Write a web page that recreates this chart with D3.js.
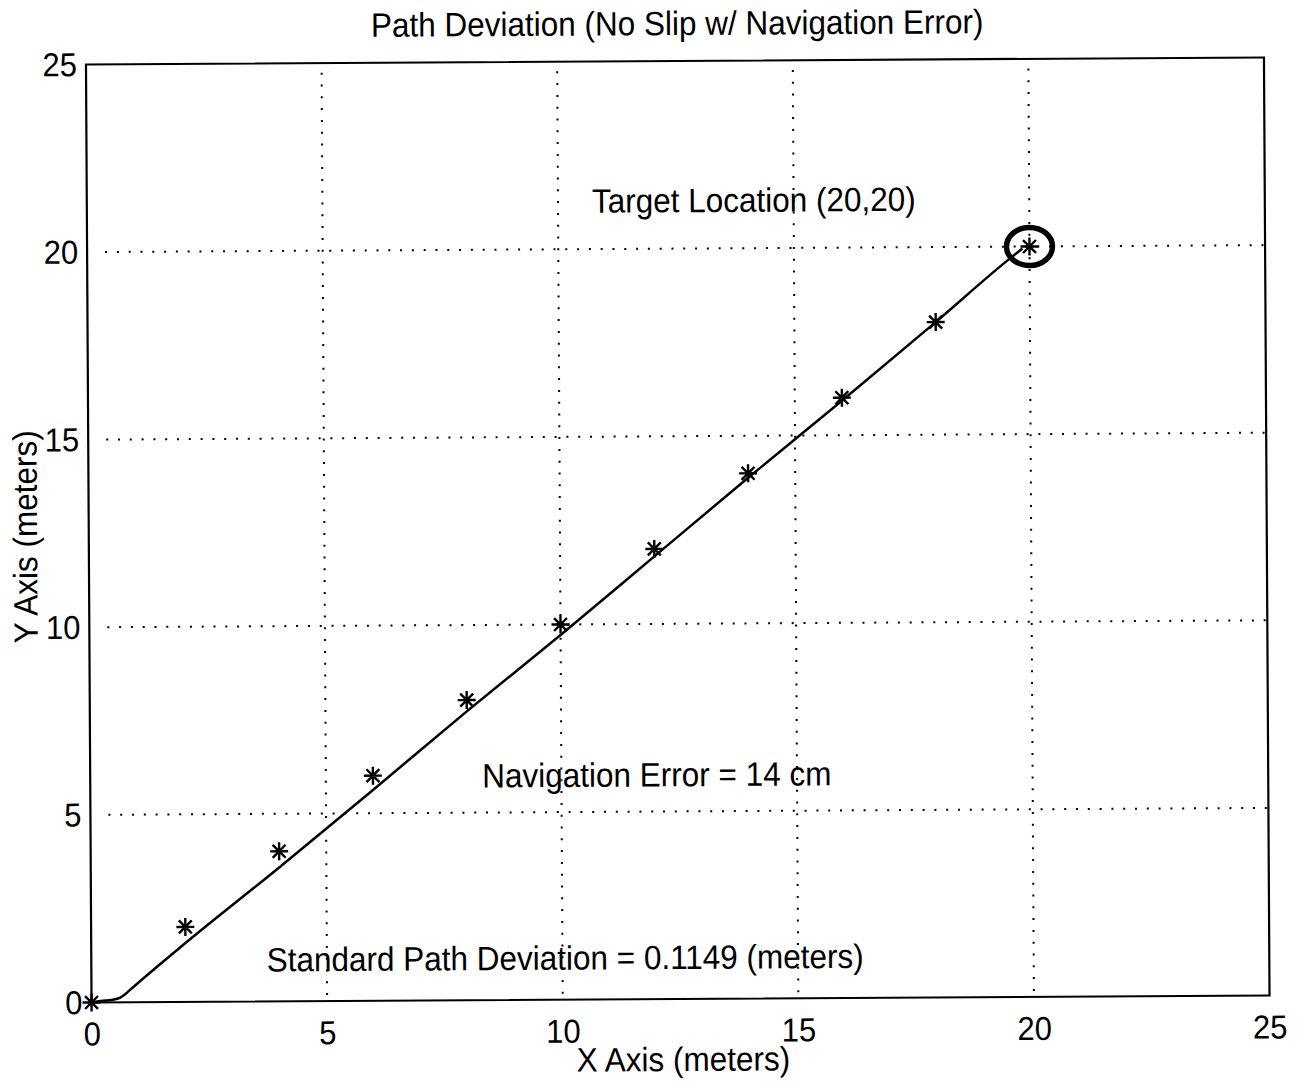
<!DOCTYPE html>
<html>
<head>
<meta charset="utf-8">
<script src="https://cdn.jsdelivr.net/npm/d3@7"></script>
<style>
  html, body { margin: 0; padding: 0; background: #fff; }
  svg { display: block; }
  text { font-family: "Liberation Sans", Arial, Helvetica, sans-serif; fill: #000; }
</style>
</head>
<body>
<svg id="chart" width="1298" height="1082"></svg>
<script>
// ---------------- data ----------------
const titleText = "Path Deviation (No Slip w/ Navigation Error)";
const xLabelText = "X Axis (meters)";
const yLabelText = "Y Axis (meters)";
const xTicks = [0, 5, 10, 15, 20, 25];
const yTicks = [0, 5, 10, 15, 20, 25];
const gridValues = [5, 10, 15, 20];

// waypoint markers (asterisks)
const markerX = [0, 2, 4, 6, 8, 10, 12, 14, 16, 18, 20];
const markerY = [0, 2, 4, 6, 8, 10, 12, 14, 16, 18, 20];

// actual travelled path
const pathX = [0, 0.2, 0.45, 0.6, 0.7, 0.8, 2, 4, 6, 8, 10, 12, 14, 16, 18, 19.5, 19.85];
const pathY = [0, 0.04, 0.07, 0.12, 0.2, 0.31, 1.57, 3.57, 5.62, 7.7, 9.72, 11.8, 13.88, 15.92, 18.0, 19.6, 19.95];

// target circle
const targetX = [20];
const targetY = [20];

// annotations [x, y] in data units
const annotations = [
  { text: "Target Location (20,20)", x: 10.72, y: 20.97 },
  { text: "Navigation Error = 14 cm", x: 8.32, y: 5.67 },
  { text: "Standard Path Deviation = 0.1149 (meters)", x: 3.72, y: 0.80 }
];

// ---------------- layout ----------------
const plot = { left: 88.75, right: 1266.75, top: 61, bottom: 999 };
const rotCx = 677.75, rotCy = 530, rotDeg = -0.34;
const fontSize = 31.5;
const tickFont = 31;
const vStretch = 1.07;

const svg = d3.select("#chart");
const root = svg.append("g")
  .attr("transform", `rotate(${rotDeg},${rotCx},${rotCy})`);

const x = d3.scaleLinear().domain([0, 25]).range([plot.left, plot.right]);
const y = d3.scaleLinear().domain([0, 25]).range([plot.bottom, plot.top]);

function putText(sel, px, py, extra) {
  sel.attr("transform", `translate(${px},${py}) ${extra || ""} scale(1,${vStretch})`);
  return sel;
}

// grid (dotted)
const grid = root.append("g").attr("class", "grid");
grid.selectAll("line.vx").data(gridValues).enter().append("line")
  .attr("x1", d => x(d)).attr("x2", d => x(d))
  .attr("y1", plot.bottom - 6).attr("y2", plot.top)
  .attr("stroke", "#000").attr("stroke-width", 2)
  .attr("stroke-dasharray", "2 9.8");
grid.selectAll("line.hy").data(gridValues).enter().append("line")
  .attr("y1", d => y(d)).attr("y2", d => y(d))
  .attr("x1", plot.left + 18).attr("x2", plot.right)
  .attr("stroke", "#000").attr("stroke-width", 2)
  .attr("stroke-dasharray", "2 9.8");

// axes via d3 (ticks hidden, labels styled)
const xAxis = root.append("g")
  .attr("transform", `translate(0,${plot.bottom})`)
  .call(d3.axisBottom(x).tickValues(xTicks).tickSize(0).tickPadding(0).tickFormat(d3.format("d")));
xAxis.select(".domain").remove();
xAxis.selectAll(".tick text")
  .attr("y", 0).attr("dy", null)
  .each(function () {
    d3.select(this).attr("font-size", tickFont).attr("font-family", null)
      .attr("text-anchor", "middle")
      .attr("transform", `translate(0,43) scale(1,${vStretch})`);
  });

const yAxis = root.append("g")
  .attr("transform", `translate(${plot.left},0)`)
  .call(d3.axisLeft(y).tickValues(yTicks).tickSize(0).tickPadding(0).tickFormat(d3.format("d")));
yAxis.select(".domain").remove();
yAxis.selectAll(".tick text")
  .attr("x", 0).attr("dy", null).attr("y", 0)
  .each(function () {
    d3.select(this).attr("font-size", tickFont).attr("font-family", null)
      .attr("text-anchor", "end")
      .attr("transform", `translate(-9,11) scale(1,${vStretch})`);
  });

// box
root.append("rect")
  .attr("x", plot.left).attr("y", plot.top)
  .attr("width", plot.right - plot.left).attr("height", plot.bottom - plot.top)
  .attr("fill", "none").attr("stroke", "#000").attr("stroke-width", 2.2);

// path line
const pathData = pathX.map((d, i) => [d, pathY[i]]);
root.append("path")
  .datum(pathData)
  .attr("d", d3.line().x(d => x(d[0])).y(d => y(d[1])).curve(d3.curveMonotoneX))
  .attr("fill", "none").attr("stroke", "#000").attr("stroke-width", 2.5);

// asterisk markers
const r = 9, rd = r * 0.72;
const starPath = `M${-r},0L${r},0M0,${-r}L0,${r}M${-rd},${-rd}L${rd},${rd}M${-rd},${rd}L${rd},${-rd}`;
const markers = markerX.map((d, i) => [d, markerY[i]]);
root.selectAll("path.star").data(markers).enter().append("path")
  .attr("class", "star")
  .attr("transform", d => `translate(${x(d[0])},${y(d[1])})`)
  .attr("d", starPath)
  .attr("fill", "none").attr("stroke", "#000").attr("stroke-width", 2.4);

// target circle
root.selectAll("ellipse.target").data(targetX.map((d, i) => [d, targetY[i]])).enter()
  .append("ellipse")
  .attr("cx", d => x(d[0])).attr("cy", d => y(d[1]))
  .attr("rx", 23).attr("ry", 19)
  .attr("fill", "none").attr("stroke", "#000").attr("stroke-width", 5.5);

// annotations
annotations.forEach(a => {
  putText(root.append("text").attr("font-size", fontSize).text(a.text), x(a.x), y(a.y));
});

// title & axis labels
putText(root.append("text").attr("font-size", fontSize).attr("text-anchor", "middle").text(titleText),
  (plot.left + plot.right) / 2 + 2.5, 35);
putText(root.append("text").attr("font-size", fontSize).attr("text-anchor", "middle").text(xLabelText),
  (plot.left + plot.right) / 2 + 2.5, 1071);
root.append("text").attr("font-size", fontSize).attr("text-anchor", "middle")
  .attr("transform", `translate(37,533) rotate(-90) scale(1,${vStretch})`)
  .text(yLabelText);
</script>
</body>
</html>
